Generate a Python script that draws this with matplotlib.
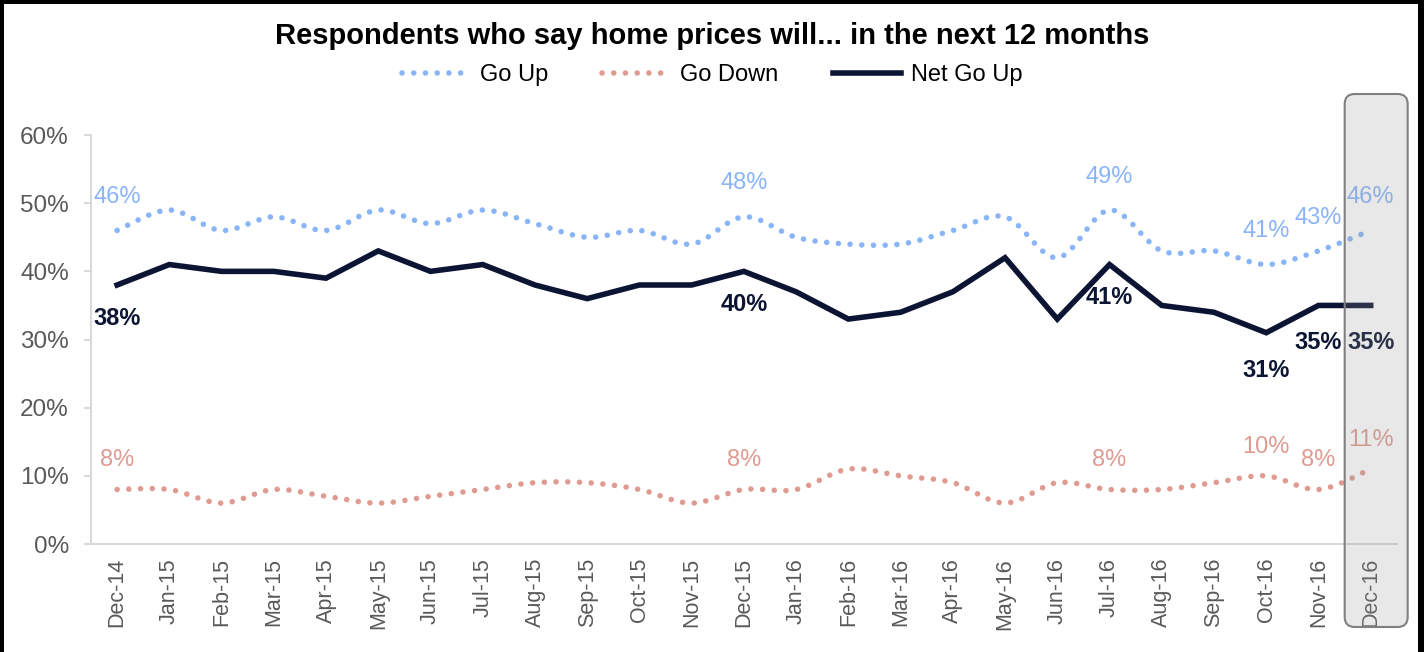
import numpy as np
import matplotlib
matplotlib.use('Agg')
import matplotlib.pyplot as plt
from matplotlib.path import Path
from matplotlib.patches import PathPatch, FancyBboxPatch, Rectangle
from matplotlib.lines import Line2D
from matplotlib.transforms import IdentityTransform

months = ['Dec-14', 'Jan-15', 'Feb-15', 'Mar-15', 'Apr-15', 'May-15', 'Jun-15',
          'Jul-15', 'Aug-15', 'Sep-15', 'Oct-15', 'Nov-15', 'Dec-15', 'Jan-16',
          'Feb-16', 'Mar-16', 'Apr-16', 'May-16', 'Jun-16', 'Jul-16', 'Aug-16',
          'Sep-16', 'Oct-16', 'Nov-16', 'Dec-16']
go_up = [46, 49, 46, 48, 46, 49, 47, 49, 47, 45, 46, 44, 48, 45, 44, 44, 46, 48,
         42, 49, 43, 43, 41, 43, 46]
go_down = [8, 8, 6, 8, 7, 6, 7, 8, 9, 9, 8, 6, 8, 8, 11, 10, 9, 6, 9, 8, 8, 9,
           10, 8, 11]
net_go_up = [38, 41, 40, 40, 39, 43, 40, 41, 38, 36, 38, 38, 40, 37, 33, 34, 37,
             42, 33, 41, 35, 34, 31, 35, 35]
labelled = [0, 12, 19, 22, 23, 24]

title = 'Respondents who say home prices will... in the next 12 months'

plt.rcParams['font.family'] = ['Liberation Sans', 'DejaVu Sans']

BLUE = '#8ab4f8'
PINK = '#df9b92'
NAVY = '#0b1533'
GRAY = '#595959'
AXIS = '#d9d9d9'
DOTS = (0, (0.01, 2.1))

fig = plt.figure(figsize=(14.24, 6.52), dpi=100)
ax = fig.add_axes([0.0639, 0.1656, 0.917, 0.6273])


def smooth_path(y):
    # excel style smoothed line as cubic bezier segments
    pts = np.column_stack([np.arange(len(y)), y]).astype(float)
    n = len(pts)
    verts = [pts[0]]
    codes = [Path.MOVETO]
    for i in range(n - 1):
        p0 = pts[max(i - 1, 0)]
        p1 = pts[i]
        p2 = pts[i + 1]
        p3 = pts[min(i + 2, n - 1)]
        verts += [p1 + (p2 - p0) / 6, p2 - (p3 - p1) / 6, p2]
        codes += [Path.CURVE4] * 3
    return Path(verts, codes)


for vals, col in [(go_up, BLUE), (go_down, PINK)]:
    patch = PathPatch(smooth_path(vals), fill=False, edgecolor=col, lw=4,
                      linestyle=DOTS, capstyle='round')
    ax.add_patch(patch)

x = np.arange(len(months))
ax.plot(x, net_go_up, color=NAVY, lw=4, solid_joinstyle='miter')

for i in labelled:
    ax.annotate(f'{go_up[i]}%', (i, go_up[i]), xytext=(0, 24),
                textcoords='offset points', ha='center', va='center',
                color=BLUE, fontsize=17)
    ax.annotate(f'{go_down[i]}%', (i, go_down[i]), xytext=(0, 21),
                textcoords='offset points', ha='center', va='center',
                color=PINK, fontsize=17)
    off = -27 if i >= 22 else -24
    ax.annotate(f'{net_go_up[i]}%', (i, net_go_up[i]), xytext=(0, off),
                textcoords='offset points', ha='center', va='center',
                color=NAVY, fontsize=17, fontweight='bold')

ax.set_xlim(-0.5, len(months) - 0.5)
ax.set_ylim(0, 60)
ax.set_xticks(x)
ax.set_xticklabels(months, rotation=90)
ax.set_yticks(range(0, 61, 10))
ax.set_yticklabels([f'{v}%' for v in range(0, 61, 10)])
ax.tick_params(axis='y', labelcolor=GRAY, color=AXIS, length=5, width=1.5,
               pad=11, labelsize=17.5)
ax.tick_params(axis='x', labelcolor=GRAY, length=0, pad=10, labelsize=15.5)
for s in ['top', 'right']:
    ax.spines[s].set_visible(False)
for s in ['left', 'bottom']:
    ax.spines[s].set_color(AXIS)
    ax.spines[s].set_linewidth(1.5)

fig.text(0.5, 1 - 36 / 652, title, ha='center', va='center', fontsize=21,
         fontweight='bold')

handles = [
    Line2D([], [], color=BLUE, lw=4, linestyle=DOTS, dash_capstyle='round'),
    Line2D([], [], color=PINK, lw=4, linestyle=DOTS, dash_capstyle='round'),
    Line2D([], [], color=NAVY, lw=4),
]
fig.legend(handles, ['Go Up', 'Go Down', 'Net Go Up'], loc='center',
           bbox_to_anchor=(0.5, 1 - 75 / 652), ncol=3, frameon=False,
           fontsize=17, handlelength=2.9, handletextpad=0.4,
           columnspacing=2.3)

# highlight box around the latest month
xc = ax.transData.transform((len(months) - 1, 0))[0]
box = FancyBboxPatch((xc - 26, 25), 63, 533,
                     boxstyle='round,pad=0,rounding_size=10',
                     transform=IdentityTransform(),
                     facecolor=(0.6, 0.6, 0.6, 0.22), edgecolor='#808080',
                     lw=1.5, zorder=10)
fig.add_artist(box)

# black frame
W, H = 1424, 652
for r in [(0, 0, 4 / W, 1), (1 - 6 / W, 0, 6 / W, 1), (0, 1 - 4 / H, 1, 4 / H)]:
    fig.add_artist(Rectangle(r[:2], r[2], r[3], transform=fig.transFigure,
                             color='black', lw=0, zorder=11))

fig.savefig('out.png', dpi=100)
